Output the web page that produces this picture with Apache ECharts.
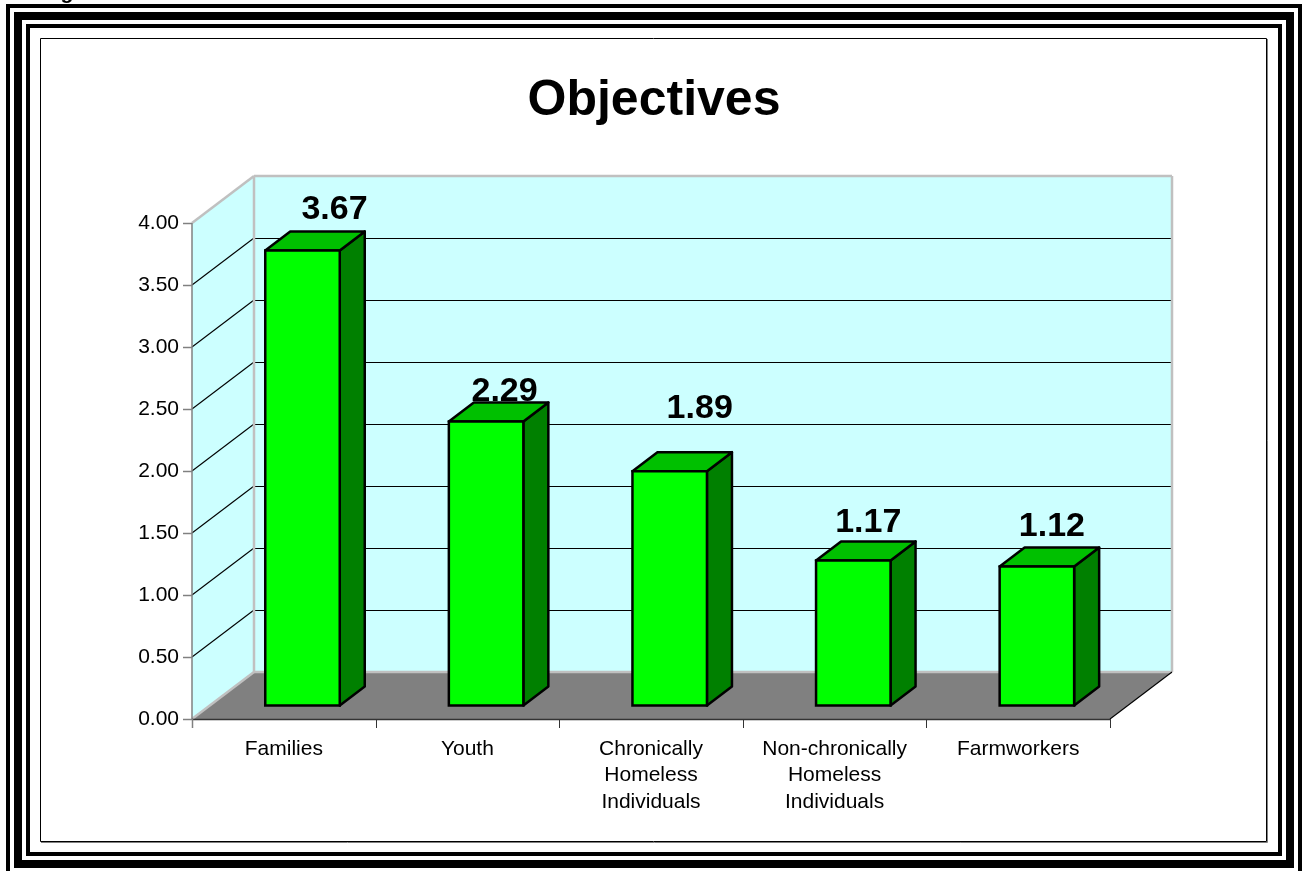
<!DOCTYPE html>
<html><head><meta charset="utf-8">
<style>html,body{margin:0;padding:0;background:#fff;overflow:hidden}#c{width:1303px;height:871px}</style>
<script src="https://cdn.jsdelivr.net/npm/echarts@6/dist/echarts.min.js"></script>
</head><body><div id="c"></div>
<script>
const chartTitle = 'Objectives';
const categories = ['Families','Youth','Chronically\nHomeless\nIndividuals','Non-chronically\nHomeless\nIndividuals','Farmworkers'];
const values = [3.67,2.29,1.89,1.17,1.12];
const yTicks = [0,0.5,1,1.5,2,2.5,3,3.5,4];
const labelNudgeX = [32,18.5,30,15,15];
const labelNudgeY = [-40.5,-30,-63,-38,-40];

const FONT = '"Liberation Sans", Arial, sans-serif';
const wallDX = 62, wallDY = -47;
const barDX = 25, barDY = -19, barBaseDX = 18.7, barBaseDY = -13.5, barW = 74.5;

const chart = echarts.init(document.getElementById('c'), null, {renderer:'canvas'});

function rectRing(x0,y0,x1,y1,t){
  return {type:'rect',silent:true,shape:{x:x0+t/2,y:y0+t/2,width:x1-x0-t,height:y1-y0-t},
    style:{fill:'none',stroke:'#000',lineWidth:t},z:0};
}
function poly(points,fill,stroke,lw){
  return {type:'polygon',shape:{points},style:{fill,stroke:stroke||'none',lineWidth:lw||0,lineJoin:'round'}};
}
function seg(a,b,stroke,lw){
  return {type:'line',shape:{x1:a[0],y1:a[1],x2:b[0],y2:b[1]},style:{stroke,lineWidth:lw}};
}

chart.setOption({
  animation:false,
  backgroundColor:'#fff',
  title:{text:chartTitle,left:649,top:71,textAlign:'center',
    textStyle:{fontFamily:FONT,fontWeight:'bold',fontSize:50,color:'#000'}},
  grid:{left:192,right:193,top:223,bottom:152,containLabel:false},
  xAxis:{type:'category',data:categories,
    axisLine:{show:false},
    axisTick:{show:false},
    axisLabel:{show:false}},
  yAxis:{type:'value',min:0,max:4,interval:0.5,
    axisLine:{show:false},axisTick:{show:false},splitLine:{show:false},
    axisLabel:{show:true,margin:13,padding:[5,0,0,0],formatter:v=>v.toFixed(2),
      fontFamily:FONT,fontSize:21,color:'#000'}},
  graphic:[
    rectRing(6,4,1302,880,4),
    rectRing(14,12,1294,868,8),
    rectRing(26,24,1282,856,4),
    {type:'polyline',silent:true,shape:{points:[[1267.5,39],[1267.5,842.5],[41,842.5]]},style:{fill:'none',stroke:'#808080',lineWidth:1},z:0},
    {type:'rect',silent:true,shape:{x:40.5,y:38.5,width:1226,height:803},style:{fill:'none',stroke:'#000',lineWidth:1},z:0},
    {type:'text',silent:true,x:67,y:4,z:0,style:{text:'g',align:'center',verticalAlign:'bottom',fontFamily:FONT,fontWeight:'bold',fontSize:21,fill:'#000'}}
  ],
  series:[
    { // walls, floor, gridlines, axes
      type:'custom',coordinateSystem:'cartesian2d',silent:true,z:1,clip:false,
      data:[0],
      renderItem(params,api){
        const cs=params.coordSys;
        const x0=cs.x,x1=cs.x+cs.width,y0=cs.y+cs.height,yT=cs.y;
        const ch=[];
        ch.push(poly([[x0,y0],[x0+wallDX,y0+wallDY],[x0+wallDX,yT+wallDY],[x0,yT]],'#ccffff'));
        ch.push(poly([[x0+wallDX,y0+wallDY],[x1+wallDX,y0+wallDY],[x1+wallDX,yT+wallDY],[x0+wallDX,yT+wallDY]],'#ccffff'));
        ch.push(poly([[x0,y0],[x0+wallDX,y0+wallDY],[x1+wallDX,y0+wallDY],[x1,y0]],'#808080'));
        yTicks.forEach(t=>{
          if(t===0||t===4) return;
          const y=api.coord([0,t])[1];
          ch.push(seg([x0,y],[x0+wallDX,y+wallDY],'#000',1.1));
          ch.push(seg([x0+wallDX,Math.round(y+wallDY)+0.5],[x1+wallDX,Math.round(y+wallDY)+0.5],'#000',1));
        });
        const gray='#c0c0c0';
        ch.push(seg([x0,yT],[x0+wallDX,yT+wallDY],gray,2.5));
        ch.push(seg([x0+wallDX,yT+wallDY],[x1+wallDX,yT+wallDY],gray,2.5));
        ch.push(seg([x0+wallDX,yT+wallDY],[x0+wallDX,y0+wallDY],gray,2.5));
        ch.push(seg([x1+wallDX,yT+wallDY],[x1+wallDX,y0+wallDY],gray,2.5));
        ch.push(seg([x0,y0],[x0+wallDX,y0+wallDY],gray,2.5));
        ch.push(seg([x0+wallDX,y0+wallDY],[x1+wallDX,y0+wallDY],gray,2.5));
        // axes
        ch.push(seg([x0,yT],[x0,y0],'#808080',1.5));
        yTicks.forEach(t=>{const y=Math.round(api.coord([0,t])[1])+0.5;ch.push(seg([x0-9,y],[x0,y],'#808080',1.5));});
        ch.push(seg([x0,y0+0.5],[x1,y0+0.5],'#333',1.5));
        ch.push(seg([x1,y0],[x1+wallDX,y0+wallDY],'#000',1.1));
        for(let i=0;i<=categories.length;i++){
          const x=Math.round(x0+cs.width*i/categories.length)+0.5;
          ch.push(seg([x,y0],[x,y0+9],i===0?'#808080':'#333',i===0?1.5:1));
        }
        return {type:'group',children:ch};
      },
      encode:{x:0,y:0}
    },
    { // category labels
      type:'custom',coordinateSystem:'cartesian2d',silent:true,z:2,clip:false,
      data:categories.map((c,i)=>[i,0]),
      renderItem(params,api){
        const i=api.value(0);
        const p=api.coord([i,0]);
        return {type:'text',x:p[0],y:p[1]+16.5,style:{text:categories[i],x:0,y:0,align:'center',verticalAlign:'top',
          fontFamily:FONT,fontSize:21,lineHeight:26.5,fill:'#000'}};
      },
      encode:{x:0,y:1}
    },
    { // 3-D bars
      type:'custom',coordinateSystem:'cartesian2d',z:3,clip:false,
      data:values.map((v,i)=>[i,v]),
      renderItem(params,api){
        const i=api.value(0),v=api.value(1);
        const b=api.coord([i,0]),t=api.coord([i,v]);
        const xL=b[0]+barBaseDX-barW/2,xR=xL+barW;
        const yB=b[1]+barBaseDY,yT=t[1]+barBaseDY;
        const k='#000',w=2.5;
        return {type:'group',children:[
          poly([[xR,yT],[xR+barDX,yT+barDY],[xR+barDX,yB+barDY],[xR,yB]],'#008000',k,w),
          poly([[xL,yT],[xL+barDX,yT+barDY],[xR+barDX,yT+barDY],[xR,yT]],'#00c000',k,w),
          {type:'rect',shape:{x:xL,y:yT,width:barW,height:yB-yT},style:{fill:'#00ff00',stroke:k,lineWidth:w}},
          {type:'text',x:(xL+xR)/2+labelNudgeX[i],y:yT+labelNudgeY[i],
            style:{text:v.toFixed(2),align:'center',verticalAlign:'middle',
              fontFamily:FONT,fontWeight:'bold',fontSize:34,fill:'#000'}}
        ]};
      },
      encode:{x:0,y:1}
    }
  ]
});
</script></body></html>
